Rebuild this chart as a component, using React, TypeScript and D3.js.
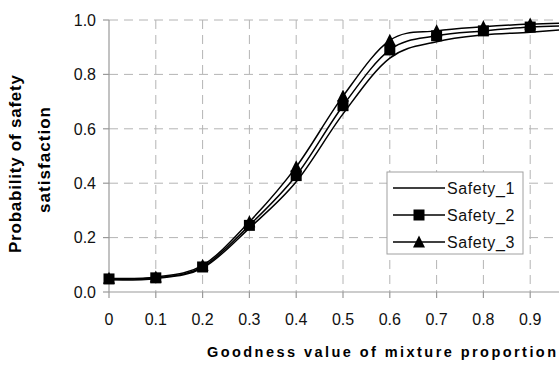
import React from "react";
import * as d3 from "d3";

const xValues = [0, 0.1, 0.2, 0.3, 0.4, 0.5, 0.6, 0.7, 0.8, 0.9, 1.0];
const safety1 = [0.045, 0.05, 0.088, 0.235, 0.405, 0.655, 0.86, 0.92, 0.945, 0.955, 0.968];
const safety2 = [0.048, 0.052, 0.092, 0.245, 0.428, 0.685, 0.89, 0.942, 0.96, 0.974, 0.98];
const safety3 = [0.05, 0.055, 0.098, 0.258, 0.46, 0.72, 0.925, 0.96, 0.975, 0.985, 0.99];
const seriesNames = ["Safety_1", "Safety_2", "Safety_3"];
const xTickLabels = ["0", "0.1", "0.2", "0.3", "0.4", "0.5", "0.6", "0.7", "0.8", "0.9"];
const yTicks = [0, 0.2, 0.4, 0.6, 0.8, 1.0];
const xTitle = "Goodness value of mixture proportion";
const yTitle1 = "Probability of safety";
const yTitle2 = "satisfaction";

const W = 559;
const H = 365;
const FONT = "Arial, 'Liberation Sans', sans-serif";

export default function App() {
  const x = d3.scaleLinear().domain([0, 1]).range([109, 577]);
  const y = d3.scaleLinear().domain([0, 1]).range([292, 20]);
  const line = d3
    .line<[number, number]>()
    .x((d) => x(d[0]))
    .y((d) => y(d[1]))
    .curve(d3.curveCatmullRom.alpha(0));
  const all = [safety1, safety2, safety3];
  const pts = (s: number[]) => xValues.map((v, i) => [v, s[i]] as [number, number]);
  const sq = 11;
  const tri = (cx: number, cy: number, s = 12) =>
    `M${cx},${cy - s * 0.55}L${cx + s * 0.5},${cy + s * 0.45}L${cx - s * 0.5},${cy + s * 0.45}Z`;
  const gridColor = "#b4b4b4";
  const legendY = [188, 215, 242];

  return (
    <svg
      width={W}
      height={H}
      style={{ position: "absolute", left: 0, top: 0, background: "#fff" }}
      fontFamily={FONT}
    >
      {yTicks.slice(1).map((t) => (
        <line key={"hg" + t} x1={x(0)} x2={x(1)} y1={y(t)} y2={y(t)} stroke={gridColor} strokeWidth={1} strokeDasharray="9,6" />
      ))}
      {xValues.slice(1).map((t) => (
        <line key={"vg" + t} x1={x(t)} x2={x(t)} y1={y(1)} y2={y(0)} stroke={gridColor} strokeWidth={1} strokeDasharray="9,6" />
      ))}
      <line x1={x(0)} x2={x(0)} y1={y(1)} y2={y(0)} stroke="#999" strokeWidth={1.2} />
      <line x1={x(0)} x2={x(1)} y1={y(0)} y2={y(0)} stroke="#999" strokeWidth={1.2} />
      {yTicks.map((t) => (
        <g key={"yt" + t}>
          <line x1={x(0) - 6} x2={x(0)} y1={y(t)} y2={y(t)} stroke="#999" strokeWidth={1.2} />
          <text x={96} y={y(t)} dy="0.36em" textAnchor="end" fontSize={16} fill="#111">
            {t.toFixed(1)}
          </text>
        </g>
      ))}
      {xValues.map((t) => (
        <line key={"xtk" + t} x1={x(t)} x2={x(t)} y1={y(0)} y2={y(0) + 6} stroke="#999" strokeWidth={1.2} />
      ))}
      {xTickLabels.map((lab, i) => (
        <text key={"xt" + i} x={x(xValues[i])} y={325} textAnchor="middle" fontSize={16} fill="#111">
          {lab}
        </text>
      ))}
      {all.map((s, i) => (
        <path key={"l" + i} d={line(pts(s)) || ""} fill="none" stroke="#000" strokeWidth={1.5} />
      ))}
      {xValues.map((v, i) => (
        <path key={"tr" + i} d={tri(x(v), y(safety3[i]))} fill="#000" />
      ))}
      {xValues.map((v, i) => (
        <rect key={"sq" + i} x={x(v) - sq / 2} y={y(safety2[i]) - sq / 2} width={sq} height={sq} fill="#000" />
      ))}
      <rect x={387} y={172} width={136} height={82} fill="#fff" stroke="#a0a0a0" strokeWidth={1} />
      {seriesNames.map((n, i) => (
        <g key={"lg" + i}>
          <line x1={393} x2={445} y1={legendY[i]} y2={legendY[i]} stroke="#000" strokeWidth={1.5} />
          {i === 1 && <rect x={419 - sq / 2} y={legendY[i] - sq / 2} width={sq} height={sq} fill="#000" />}
          {i === 2 && <path d={tri(419, legendY[i])} fill="#000" />}
          <text x={447} y={legendY[i]} dy="0.36em" fontSize={16} letterSpacing={0.6} fill="#111">
            {n}
          </text>
        </g>
      ))}
      <text x={207} y={357} fontSize={14.5} fontWeight="bold" textLength={349} lengthAdjust="spacing" fill="#000">
        {xTitle}
      </text>
      <text transform="translate(21,164) rotate(-90)" textAnchor="middle" fontSize={17} fontWeight="bold" textLength={178} lengthAdjust="spacing" fill="#000">
        {yTitle1}
      </text>
      <text transform="translate(50,160) rotate(-90)" textAnchor="middle" fontSize={17} fontWeight="bold" textLength={106} lengthAdjust="spacing" fill="#000">
        {yTitle2}
      </text>
    </svg>
  );
}
